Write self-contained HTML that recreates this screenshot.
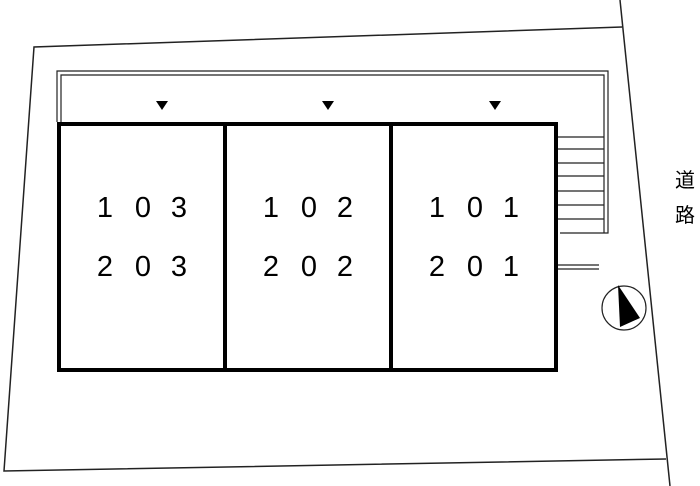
<!DOCTYPE html>
<html><head><meta charset="utf-8"><style>html,body{margin:0;padding:0;background:#fff}svg{display:block}</style></head><body>
<svg width="700" height="486" viewBox="0 0 700 486" xmlns="http://www.w3.org/2000/svg" font-family="Liberation Sans, Noto Sans CJK JP, sans-serif">
<g fill="none" stroke="#222" stroke-width="1.5">
<polyline points="622,27 34,47 4,471 666,459"/>
<line x1="620" y1="0" x2="670" y2="486"/>
</g>
<g fill="none" stroke="#222" stroke-width="1.2">
<polyline points="57,122 57,71 608,71 608,233 560,233"/>
<polyline points="61,122 61,75 604,75 604,233"/>
<line x1="557" y1="265" x2="599" y2="265"/>
<line x1="557" y1="269" x2="599" y2="269"/>
</g>
<g stroke="#222" stroke-width="1.2">
<line x1="558" y1="137" x2="604" y2="137"/>
<line x1="558" y1="149" x2="604" y2="149"/>
<line x1="558" y1="163" x2="604" y2="163"/>
<line x1="558" y1="176" x2="604" y2="176"/>
<line x1="558" y1="191" x2="604" y2="191"/>
<line x1="558" y1="205" x2="604" y2="205"/>
<line x1="558" y1="219" x2="604" y2="219"/>
</g>
<g fill="none" stroke="#000" stroke-width="4">
<rect x="59" y="124" width="497" height="246"/>
<line x1="225" y1="124" x2="225" y2="370"/>
<line x1="391" y1="124" x2="391" y2="370"/>
</g>
<g fill="#000">
<polygon points="156,101 168,101 162,110"/>
<polygon points="322,101 334,101 328,110"/>
<polygon points="489,101 501,101 495,110"/>
</g>
<circle cx="624" cy="308" r="22" fill="none" stroke="#222" stroke-width="1.2"/>
<polygon points="618,285 620,327 640,318" fill="#000"/>
<g font-size="29" fill="#000" text-anchor="middle">
<text x="105" y="217">1</text><text x="143" y="217">0</text><text x="179" y="217">3</text>
<text x="105" y="276">2</text><text x="143" y="276">0</text><text x="179" y="276">3</text>
<text x="271" y="217">1</text><text x="309" y="217">0</text><text x="345" y="217">2</text>
<text x="271" y="276">2</text><text x="309" y="276">0</text><text x="345" y="276">2</text>
<text x="437" y="217">1</text><text x="475" y="217">0</text><text x="511" y="217">1</text>
<text x="437" y="276">2</text><text x="475" y="276">0</text><text x="511" y="276">1</text>
</g>
<g font-size="20" fill="#000" text-anchor="middle">
<text x="685" y="187">道</text>
<text x="685" y="222">路</text>
</g>
</svg>
</body></html>
